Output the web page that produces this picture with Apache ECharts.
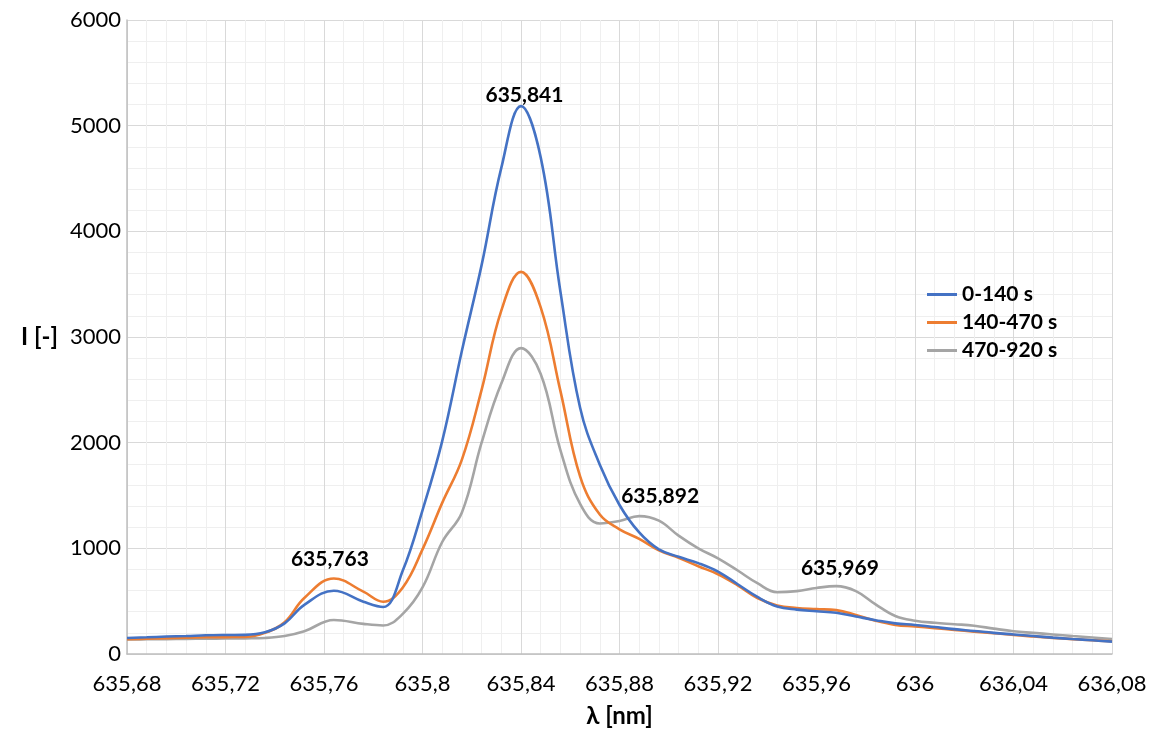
<!DOCTYPE html>
<html>
<head>
<meta charset="utf-8">
<script src="https://cdn.jsdelivr.net/npm/echarts@6/dist/echarts.min.js"></script>
<style>
html,body{margin:0;padding:0;background:#fff;}
#chart{width:1156px;height:733px;}
</style>
</head>
<body>
<div id="chart"></div>
<script>
// wavelength samples (nm)
const wavelengths = [
  635.680, 635.688, 635.696, 635.704, 635.712, 635.720, 635.728, 635.736, 635.744, 635.752,
  635.764, 635.776, 635.784, 635.792, 635.800, 635.808, 635.816, 635.824, 635.832,
  635.840, 635.848, 635.856, 635.864, 635.872, 635.880, 635.888, 635.896, 635.904, 635.912,
  635.920, 635.928, 635.936, 635.944, 635.952, 635.960, 635.968, 635.976, 635.984, 635.992,
  636.000, 636.008, 636.016, 636.024, 636.032, 636.040, 636.048, 636.056, 636.064, 636.072,
  636.080];

const s0_140 = [
  152, 158, 165, 170, 177, 180, 181, 205, 290, 465,
  598, 495, 445, 790, 1360, 2015, 2870, 3680, 4600,
  5185, 4700, 3430, 2330, 1790, 1410, 1150, 990, 920, 860,
  780, 660, 540, 450, 420, 405, 390, 355, 320, 290,
  275, 255, 235, 218, 200, 185, 170, 155, 142, 130,
  117];

const s140_470 = [
  140, 145, 150, 155, 158, 160, 162, 200, 300, 530,
  715, 590, 495, 630, 990, 1430, 1840, 2500, 3250,
  3616, 3280, 2490, 1680, 1320, 1180, 1090, 980, 910, 830,
  755, 650, 530, 460, 435, 425, 415, 370, 315, 275,
  260, 245, 228, 212, 197, 180, 166, 153, 141, 130,
  120];

const s470_920 = [
  137, 139, 141, 143, 145, 146, 148, 152, 170, 215,
  322, 285, 270, 380, 630, 1060, 1340, 2000, 2560,
  2895, 2650, 1930, 1420, 1235, 1258, 1305, 1262, 1120, 1000,
  905, 790, 670, 585, 595, 625, 642, 595, 470, 360,
  315, 295, 282, 268, 240, 215, 200, 185, 170, 156,
  142];

const seriesNames = ['0-140 s', '140-470 s', '470-920 s'];
const peakLabels = ['635,841', '635,763', '635,892', '635,969'];
const peakAnchorX = [635.8414, 635.7624, 635.8965, 635.9695];
const peakAnchorY = [5290, 898, 1493, 815];

const xTicks = {min: 635.68, max: 636.08, step: 0.04};
const yTicks = {min: 0, max: 6000, step: 1000};
const xName = 'λ [nm]';
const yName = 'I [-]';

const colors = ['#4472C4', '#ED7D31', '#A5A5A5'];
const FONT = 'Lato, "Open Sans", sans-serif';

function pairs(xs, ys) { return xs.map((x, i) => [x, ys[i]]); }
function fmtX(v) { return String(+v.toFixed(2)).replace('.', ','); }

const chart = echarts.init(document.getElementById('chart'), null, {renderer: 'canvas'});
const values = [s0_140, s140_470, s470_920];

const series = values.map((vals, i) => ({
  name: seriesNames[i],
  type: 'line',
  data: pairs(wavelengths, vals),
  smooth: 0.4,
  showSymbol: false,
  symbol: 'none',
  lineStyle: {color: colors[i], width: 2.6},
  itemStyle: {color: colors[i]},
  z: 5 - i
}));

series[0].markPoint = {
  symbol: 'circle',
  symbolSize: 0,
  silent: true,
  label: {
    show: true,
    position: 'inside',
    formatter: p => p.name,
    color: '#000',
    fontFamily: FONT,
    fontWeight: 'bold',
    fontSize: 21
  },
  data: peakLabels.map((t, i) => ({name: t, coord: [peakAnchorX[i], peakAnchorY[i]]}))
};

chart.setOption({
  animation: false,
  backgroundColor: '#fff',
  color: colors,
  grid: {left: 127, right: 44, top: 20, bottom: 78, containLabel: false},
  legend: {
    orient: 'vertical',
    left: 922,
    top: 279,
    itemWidth: 30,
    itemHeight: 3,
    itemGap: 7,
    icon: 'rect',
    data: seriesNames,
    textStyle: {fontFamily: FONT, fontWeight: 'bold', fontSize: 21, color: '#000', lineHeight: 20}
  },
  xAxis: {
    type: 'value',
    min: xTicks.min,
    max: xTicks.max,
    interval: xTicks.step,
    name: xName,
    nameLocation: 'middle',
    nameGap: 50,
    nameTextStyle: {fontFamily: FONT, fontWeight: 'bold', fontSize: 24, color: '#000'},
    axisLine: {show: true, lineStyle: {color: '#bfbfbf', width: 1.5}},
    axisTick: {show: false},
    axisLabel: {formatter: fmtX, fontFamily: FONT, fontSize: 22, color: '#000', margin: 19, showMaxLabel: true, showMinLabel: true},
    splitLine: {show: true, lineStyle: {color: '#d9d9d9', width: 1}},
    minorTick: {show: false, splitNumber: 5},
    minorSplitLine: {show: true, lineStyle: {color: '#efefef', width: 1}}
  },
  yAxis: {
    type: 'value',
    min: yTicks.min,
    max: yTicks.max,
    interval: yTicks.step,
    name: yName,
    nameLocation: 'middle',
    nameRotate: 0,
    nameGap: 69,
    nameTextStyle: {fontFamily: FONT, fontWeight: 'bold', fontSize: 24, color: '#000', align: 'right'},
    axisLine: {show: true, lineStyle: {color: '#bfbfbf', width: 1.5}},
    axisTick: {show: false},
    axisLabel: {formatter: v => String(v), fontFamily: FONT, fontSize: 22, color: '#000', margin: 6},
    splitLine: {show: true, lineStyle: {color: '#d9d9d9', width: 1}},
    minorTick: {show: false, splitNumber: 5},
    minorSplitLine: {show: true, lineStyle: {color: '#efefef', width: 1}}
  },
  series: series
});
</script>
</body>
</html>
